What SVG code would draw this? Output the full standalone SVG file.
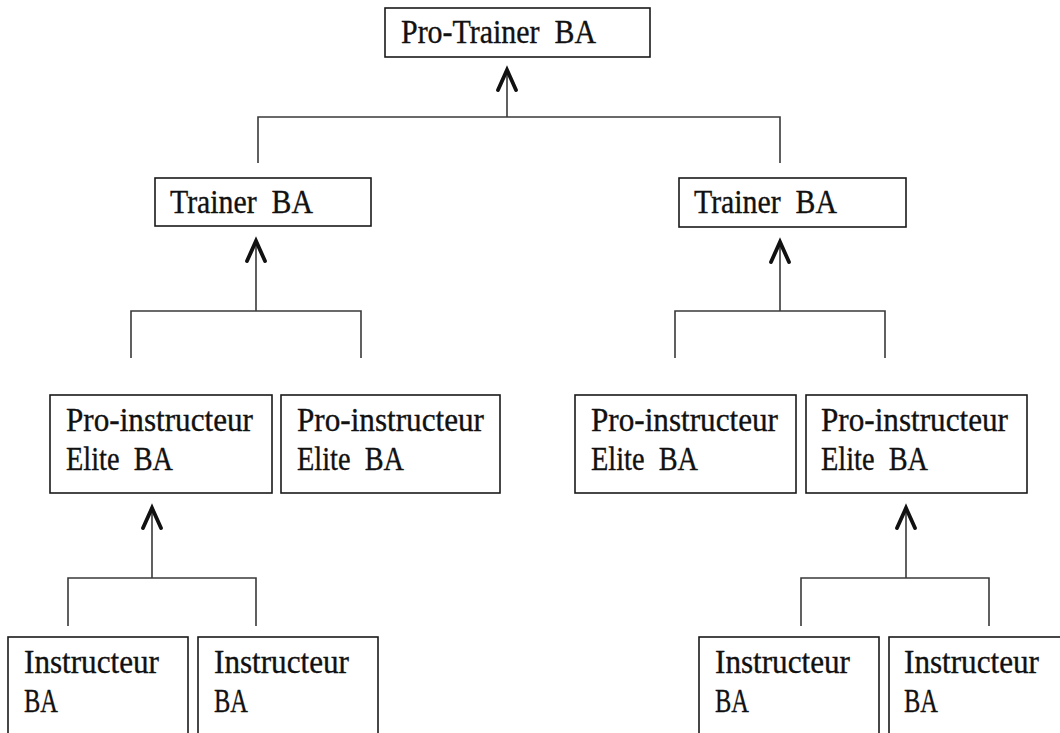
<svg xmlns="http://www.w3.org/2000/svg" width="1060" height="733" viewBox="0 0 1060 733">
<style>
.box{fill:#fff;stroke:#1a1a1a;stroke-width:1.6}
.t{font-family:"Liberation Serif","Times New Roman",serif;font-size:33px;fill:#111;stroke:#111;stroke-width:0.35}
.ln{fill:none;stroke:#3a3a3a;stroke-width:1.6}
.chev{fill:none;stroke:#111;stroke-width:3.8;stroke-linecap:round;stroke-linejoin:miter}
</style>
<rect width="1060" height="733" fill="#fff"/>
<g id="connectors">
<path class="ln" d="M507 70V117M258 163V117H780V163"/>
<path class="chev" d="M498 90L507 70L516 90"/>
<path class="ln" d="M256 241V311M131 358V311H361V358"/>
<path class="chev" d="M247 261L256 241L265 261"/>
<path class="ln" d="M780 242V311M675 358V311H885V358"/>
<path class="chev" d="M771 262L780 242L789 262"/>
<path class="ln" d="M152 508V578M68 626V578H256V626"/>
<path class="chev" d="M143 528L152 508L161 528"/>
<path class="ln" d="M906 508V578M801 626V578H989V626"/>
<path class="chev" d="M897 528L906 508L915 528"/>
</g>
<g id="pro-trainer">
<rect class="box" x="385" y="8" width="265" height="49"/>
<text class="t" x="401" y="43" xml:space="preserve" textLength="195" lengthAdjust="spacingAndGlyphs">Pro-Trainer  BA</text>
</g>
<g id="trainer-left">
<rect class="box" x="155" y="178" width="216" height="48"/>
<text class="t" x="170" y="213" xml:space="preserve" textLength="143" lengthAdjust="spacingAndGlyphs">Trainer  BA</text>
</g>
<g id="trainer-right">
<rect class="box" x="679" y="178" width="227" height="49"/>
<text class="t" x="694" y="213" xml:space="preserve" textLength="143" lengthAdjust="spacingAndGlyphs">Trainer  BA</text>
</g>
<g id="pro-instructeur-1">
<rect class="box" x="50" y="395" width="222" height="98"/>
<text class="t" x="66" y="431" textLength="187" lengthAdjust="spacingAndGlyphs">Pro-instructeur</text>
<text class="t" x="66" y="470" xml:space="preserve" textLength="107" lengthAdjust="spacingAndGlyphs">Elite  BA</text>
</g>
<g id="pro-instructeur-2">
<rect class="box" x="281" y="395" width="219" height="98"/>
<text class="t" x="297" y="431" textLength="187" lengthAdjust="spacingAndGlyphs">Pro-instructeur</text>
<text class="t" x="297" y="470" xml:space="preserve" textLength="107" lengthAdjust="spacingAndGlyphs">Elite  BA</text>
</g>
<g id="pro-instructeur-3">
<rect class="box" x="575" y="395" width="221" height="98"/>
<text class="t" x="591" y="431" textLength="187" lengthAdjust="spacingAndGlyphs">Pro-instructeur</text>
<text class="t" x="591" y="470" xml:space="preserve" textLength="107" lengthAdjust="spacingAndGlyphs">Elite  BA</text>
</g>
<g id="pro-instructeur-4">
<rect class="box" x="806" y="395" width="221" height="98"/>
<text class="t" x="821" y="431" textLength="187" lengthAdjust="spacingAndGlyphs">Pro-instructeur</text>
<text class="t" x="821" y="470" xml:space="preserve" textLength="107" lengthAdjust="spacingAndGlyphs">Elite  BA</text>
</g>
<g id="instructeur-1">
<rect class="box" x="8" y="637" width="180" height="120"/>
<text class="t" x="24" y="673" textLength="135" lengthAdjust="spacingAndGlyphs">Instructeur</text>
<text class="t" x="24" y="712" textLength="34" lengthAdjust="spacingAndGlyphs">BA</text>
</g>
<g id="instructeur-2">
<rect class="box" x="198" y="637" width="180" height="120"/>
<text class="t" x="214" y="673" textLength="135" lengthAdjust="spacingAndGlyphs">Instructeur</text>
<text class="t" x="214" y="712" textLength="34" lengthAdjust="spacingAndGlyphs">BA</text>
</g>
<g id="instructeur-3">
<rect class="box" x="699" y="637" width="180" height="120"/>
<text class="t" x="715" y="673" textLength="135" lengthAdjust="spacingAndGlyphs">Instructeur</text>
<text class="t" x="715" y="712" textLength="34" lengthAdjust="spacingAndGlyphs">BA</text>
</g>
<g id="instructeur-4">
<rect class="box" x="889" y="637" width="200" height="120"/>
<text class="t" x="904" y="673" textLength="135" lengthAdjust="spacingAndGlyphs">Instructeur</text>
<text class="t" x="904" y="712" textLength="34" lengthAdjust="spacingAndGlyphs">BA</text>
</g>
</svg>
